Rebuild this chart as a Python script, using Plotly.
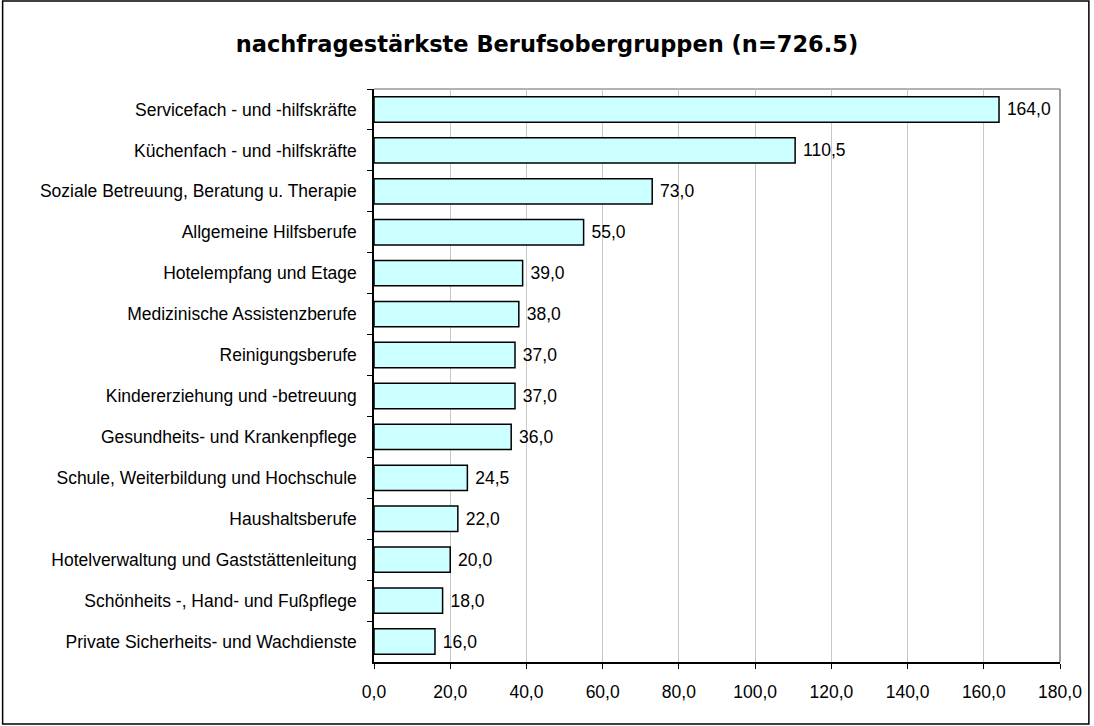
import plotly.graph_objects as go

categories = [
    "Servicefach - und -hilfskräfte",
    "Küchenfach - und -hilfskräfte",
    "Soziale Betreuung, Beratung u. Therapie",
    "Allgemeine Hilfsberufe",
    "Hotelempfang und Etage",
    "Medizinische Assistenzberufe",
    "Reinigungsberufe",
    "Kindererziehung und -betreuung",
    "Gesundheits- und Krankenpflege",
    "Schule, Weiterbildung und Hochschule",
    "Haushaltsberufe",
    "Hotelverwaltung und Gaststättenleitung",
    "Schönheits -, Hand- und Fußpflege",
    "Private Sicherheits- und Wachdienste",
]
values = [164.0, 110.5, 73.0, 55.0, 39.0, 38.0, 37.0, 37.0, 36.0, 24.5, 22.0, 20.0, 18.0, 16.0]
x_ticks = [0, 20, 40, 60, 80, 100, 120, 140, 160, 180]
title = "nachfragestärkste Berufsobergruppen (n=726.5)"

FONT = "Liberation Sans, Arial, sans-serif"
TFONT = "DejaVu Sans, Verdana, sans-serif"
FS = 17.5

fig = go.Figure(go.Bar(
    x=values,
    y=categories,
    orientation="h",
    marker=dict(color="#CCFFFF", line=dict(color="black", width=1.5)),
    width=0.62,
    texttemplate="\u00a0%{x:.1f}",
    textposition="outside",
    textfont=dict(family=FONT, size=FS, color="black"),
    cliponaxis=False,
))

L, R, T, B = 374, 31, 89, 64
W, H = 1094, 726
pw, ph = W - L - R, H - T - B

fig.update_layout(
    width=W, height=H,
    margin=dict(l=L, r=R, t=T, b=B),
    paper_bgcolor="white",
    plot_bgcolor="white",
    separators=",.",
    showlegend=False,
    font=dict(family=FONT, size=FS, color="black"),
    title=dict(
        text="<b>" + title + "</b>",
        x=0.5, xanchor="center", xref="container",
        y=1 - 44 / H, yanchor="middle",
        font=dict(family=TFONT, size=22.5, color="black"),
    ),
    xaxis=dict(
        range=[0, 180],
        tickvals=x_ticks,
        ticktext=[f"{v:.1f}".replace(".", ",") for v in x_ticks],
        showgrid=True, gridcolor="#C8C8C8", gridwidth=1,
        showline=True, linecolor="black", linewidth=1.5,
        ticks="outside", ticklen=5, tickcolor="black",
        zeroline=False,
        tickfont=dict(family=FONT, size=FS),
        ticklabelstandoff=8,
    ),
    yaxis=dict(
        autorange="reversed",
        showline=True, linecolor="black", linewidth=1.5,
        ticks="outside", ticklen=5, tickcolor="black",
        tickson="boundaries",
        showgrid=False,
        tickfont=dict(family=FONT, size=FS),
        ticklabelstandoff=12,
    ),
    shapes=[
        dict(type="line", xref="paper", yref="paper", x0=0, x1=1, y0=1, y1=1,
             line=dict(color="#999999", width=1.5), layer="below"),
        dict(type="line", xref="paper", yref="paper", x0=1, x1=1, y0=0, y1=1,
             line=dict(color="#808080", width=1.5), layer="below"),
        dict(type="rect", xref="paper", yref="paper",
             x0=-(L - 1) / pw, x1=1 + (R - 2) / pw,
             y0=-(B - 2) / ph, y1=1 + (T - 1) / ph,
             line=dict(color="black", width=1.5)),
    ],
)

fig.write_html(
    "out.html",
    config={"displayModeBar": False},
    post_script="document.body.style.margin='0';document.body.style.overflow='hidden';",
)
